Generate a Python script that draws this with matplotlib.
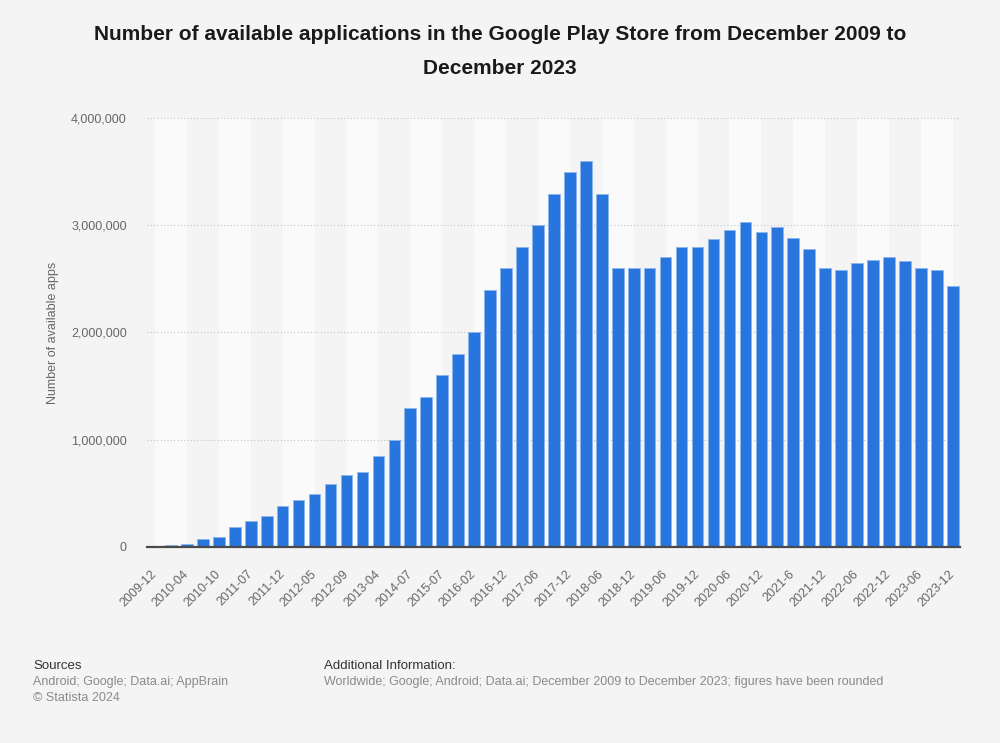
import matplotlib
matplotlib.use("Agg")
import matplotlib.pyplot as plt
from matplotlib.ticker import FuncFormatter

plt.rcParams["font.family"] = ["Liberation Sans", "DejaVu Sans"]

# number of apps per survey date (every other date is labelled on the axis)
apps = [5000, 16000, 30000, 70000, 90000, 190000, 240000, 290000, 385000, 440000,
        490000, 590000, 675000, 700000, 850000, 1000000, 1300000, 1400000, 1600000, 1800000,
        2000000, 2400000, 2600000, 2800000, 3000000, 3290000, 3500000, 3600000, 3290000, 2600000,
        2600000, 2600000, 2700000, 2800000, 2800000, 2870000, 2960000, 3030000, 2940000, 2980000,
        2880000, 2780000, 2600000, 2580000, 2650000, 2680000, 2700000, 2670000, 2600000, 2580000,
        2430000]
tick_labels = ["2009-12", "2010-04", "2010-10", "2011-07", "2011-12", "2012-05", "2012-09",
               "2013-04", "2014-07", "2015-07", "2016-02", "2016-12", "2017-06", "2017-12",
               "2018-06", "2018-12", "2019-06", "2019-12", "2020-06", "2020-12", "2021-6",
               "2021-12", "2022-06", "2022-12", "2023-06", "2023-12"]
y_ticks = [0, 1000000, 2000000, 3000000, 4000000]

title = ("Number of available applications in the Google Play Store from December 2009 to\n"
         "December 2023")

BG = "#f4f4f4"
BAR = "#2876dd"
GREY = "#666666"

fig = plt.figure(figsize=(10, 7.43), dpi=100, facecolor=BG)
ax = fig.add_axes([0.147, 0.2638, 0.813, 0.5774])
ax.set_facecolor(BG)

x = list(range(len(apps)))

# alternating background bands, two categories wide
for k in range(0, len(apps) - 1, 4):
    ax.axvspan(k, k + 2, color="#fafafa", lw=0, zorder=0)

ax.bar(x, apps, width=0.73, color=BAR, edgecolor="#8db6ef", linewidth=0.6, zorder=3)

ax.set_xlim(-0.5, len(apps) - 0.55)
ax.set_ylim(0, 4000000)
ax.set_yticks(y_ticks)
ax.yaxis.set_major_formatter(FuncFormatter(lambda v, _: f"{int(v):,}"))
ax.set_xticks(x[::2])
ax.set_xticklabels(tick_labels, rotation=45, ha="right", va="center", rotation_mode="anchor")

ax.grid(axis="y", color="#c4c4c4", linestyle=(0, (1, 2)), linewidth=0.8, zorder=1)
ax.set_axisbelow(True)
for s in ["top", "right", "left"]:
    ax.spines[s].set_visible(False)
ax.spines["bottom"].set_color("#4a4a4a")
ax.spines["bottom"].set_linewidth(1.6)
ax.spines["bottom"].set_zorder(5)

ax.tick_params(axis="y", length=0, pad=14.5, labelsize=9, labelcolor=GREY)
ax.tick_params(axis="x", length=0, pad=18, labelsize=9, labelcolor=GREY)

fig.text(0.0527, 0.5525, "Number of available apps", rotation=90, ha="center", va="center",
         fontsize=9, color=GREY)

fig.text(0.5, 0.966, title, ha="center", va="top", fontsize=15, fontweight="bold",
         color="#1a1a1a", linespacing=1.95)

fig.text(0.033, 0.104, "Sources", fontsize=9.5, color="#333333", va="center")
fig.text(0.033, 0.082, "Android; Google; Data.ai; AppBrain", fontsize=9, color="#8a8a8a", va="center")
fig.text(0.033, 0.060, "\u00a9 Statista 2024", fontsize=9, color="#8a8a8a", va="center")
fig.text(0.324, 0.104, "Additional Information:", fontsize=9.5, color="#333333", va="center")
fig.text(0.324, 0.082, "Worldwide; Google; Android; Data.ai; December 2009 to December 2023; "
         "figures have been rounded", fontsize=9, color="#8a8a8a", va="center")

fig.savefig("out.png", dpi=100, facecolor=BG)
